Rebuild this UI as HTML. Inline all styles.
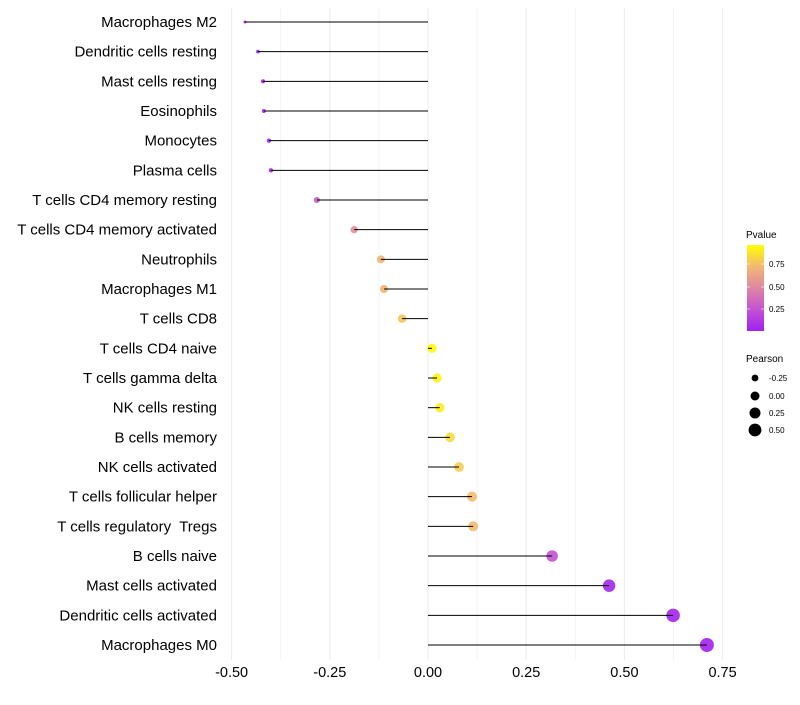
<!DOCTYPE html>
<html><head><meta charset="utf-8"><style>
body{margin:0;background:#fff;font-family:"Liberation Sans",sans-serif}
</style></head><body>
<svg id="chart" width="800" height="700" xmlns="http://www.w3.org/2000/svg">
<defs><linearGradient id="pg" x1="0" y1="1" x2="0" y2="0">
<stop offset="0" stop-color="#A020F0"/><stop offset="0.25" stop-color="#C453D2"/><stop offset="0.5" stop-color="#DE86A2"/><stop offset="0.75" stop-color="#F1B872"/><stop offset="1" stop-color="#FFFF00"/>
</linearGradient></defs>
<g id="grid"></g><g id="marks"></g><g id="labels"></g>
<g font-size="9" fill="#000">
<text x="746" y="238" font-size="10">Pvalue</text>
<rect x="747" y="245" width="17" height="86" fill="url(#pg)"/>
<line x1="747" y1="264" x2="750" y2="264" stroke="#fff" opacity=".6"/><line x1="761" y1="264" x2="764" y2="264" stroke="#fff" opacity=".6"/>
<line x1="747" y1="287" x2="750" y2="287" stroke="#fff" opacity=".6"/><line x1="761" y1="287" x2="764" y2="287" stroke="#fff" opacity=".6"/>
<line x1="747" y1="309" x2="750" y2="309" stroke="#fff" opacity=".6"/><line x1="761" y1="309" x2="764" y2="309" stroke="#fff" opacity=".6"/>
<text x="769" y="267" font-size="8">0.75</text><text x="769" y="290" font-size="8">0.50</text><text x="769" y="312" font-size="8">0.25</text>
</g>
<g fill="#000">
<text x="746" y="362" font-size="10">Pearson</text>
<circle cx="755" cy="378" r="3.4"/><text x="769" y="381" font-size="8">-0.25</text>
<circle cx="755" cy="396" r="4.5"/><text x="769" y="399" font-size="8">0.00</text>
<circle cx="755" cy="413" r="5.5"/><text x="769" y="416" font-size="8">0.25</text>
<circle cx="755" cy="430" r="6.4"/><text x="769" y="433" font-size="8">0.50</text>
</g>
</svg>
<script>
const categories=["Macrophages M2","Dendritic cells resting","Mast cells resting","Eosinophils","Monocytes","Plasma cells","T cells CD4 memory resting","T cells CD4 memory activated","Neutrophils","Macrophages M1","T cells CD8","T cells CD4 naive","T cells gamma delta","NK cells resting","B cells memory","NK cells activated","T cells follicular helper","T cells regulatory\u00a0 Tregs","B cells naive","Mast cells activated","Dendritic cells activated","Macrophages M0"];
const pearson=[-0.466,-0.433,-0.42,-0.418,-0.405,-0.40,-0.283,-0.188,-0.12,-0.112,-0.066,0.01,0.023,0.03,0.056,0.079,0.112,0.115,0.316,0.461,0.624,0.71];
const pvalue=[0.02,0.03,0.03,0.04,0.04,0.05,0.3,0.55,0.72,0.72,0.8,0.98,0.96,0.94,0.88,0.82,0.76,0.76,0.25,0.03,0.02,0.01];
const xTicks=[-0.5,-0.25,0,0.25,0.5,0.75];
const tickLabels=["-0.50","-0.25","0.00","0.25","0.50","0.75"];
const NS="http://www.w3.org/2000/svg";
const x=v=>428+v*392.8;
const y=i=>22+i*(623/(categories.length-1));
const rad=v=>Math.sqrt(Math.max(0.5,20.8+39.75*v));
const stops=[[0,[160,32,240]],[0.25,[196,83,210]],[0.5,[222,134,162]],[0.75,[241,184,114]],[1,[255,255,0]]];
function col(p){for(let k=1;k<stops.length;k++){if(p<=stops[k][0]){const a=stops[k-1],b=stops[k],t=(p-a[0])/(b[0]-a[0]);return "rgb("+a[1].map((c,j)=>Math.round(c+(b[1][j]-c)*t)).join(",")+")";}}return "rgb(255,255,0)";}
function mk(t,attrs,parent){const e=document.createElementNS(NS,t);for(const k in attrs)e.setAttribute(k,attrs[k]);parent.appendChild(e);return e;}
const grid=document.getElementById("grid"),marks=document.getElementById("marks"),labels=document.getElementById("labels");
for(let k=0;k<xTicks.length;k++){
 const g=mk("line",{x1:x(xTicks[k]),x2:x(xTicks[k]),y1:8,y2:660,stroke:"#ebebeb","stroke-width":1},grid);
 
 
 if(k<xTicks.length-1){const m=mk("line",{x1:x((xTicks[k]+xTicks[k+1])/2),x2:x((xTicks[k]+xTicks[k+1])/2),y1:8,y2:660,stroke:"#f4f4f4","stroke-width":1},grid);
 
 }
 const t=mk("text",{x:x(xTicks[k]),y:677,"text-anchor":"middle","font-size":14.5,fill:"#000"},labels);
 t.textContent=tickLabels[k];
 
 
}
categories.forEach((c,i)=>{
 const pt=mk("circle",{cx:x(pearson[i]),cy:y(i),r:rad(pearson[i]),fill:col(pvalue[i]),"fill-opacity":0.9},marks);
 
 
 const s=mk("line",{x1:x(0),x2:x(pearson[i]),y1:y(i),y2:y(i),stroke:"#000","stroke-width":1},marks);
 
 
 const t=mk("text",{x:217,y:y(i)+5,"text-anchor":"end","font-size":15,fill:"#000"},labels);
 t.textContent=c;
 
 
});
</script>
</body></html>
